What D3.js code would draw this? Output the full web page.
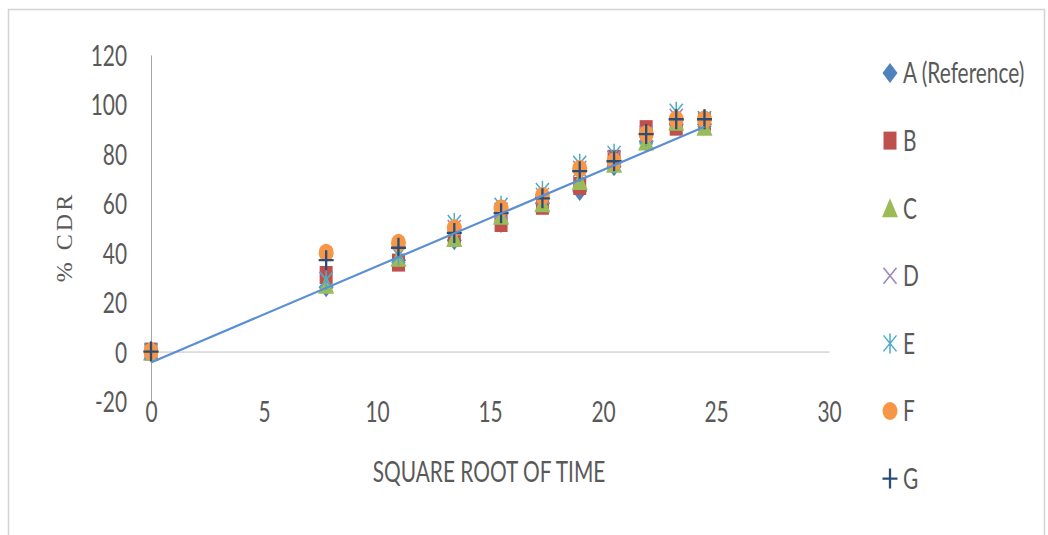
<!DOCTYPE html>
<html>
<head>
<meta charset="utf-8">
<script src="https://cdn.jsdelivr.net/npm/d3@7"></script>
<style>
  body { margin: 0; background: #fff; }
  svg text { font-family: Lato, "Open Sans", sans-serif; fill: #595959; }
</style>
</head>
<body>
<svg id="chart" width="1048" height="535"></svg>
<script>
// values
const seriesNames = ["A (Reference)", "B", "C", "D", "E", "F", "G"];
const sqrtTime = [0, 7.75, 10.95, 13.42, 15.49, 17.32, 18.97, 20.49, 21.91, 23.24, 24.49];
const cdrA = [0, 26, 37, 45, 52, 60, 65, 75, 85, 92, 92];
const cdrB = [0, 31, 36, 47, 52, 59, 67, 78, 90, 91, 93];
const cdrC = [0, 27, 38, 46, 55, 60, 69, 76, 85, 93, 91];
const cdrD = [0, 29, 39, 50, 57, 63, 74, 78, 88, 95, 94];
const cdrE = [0, 29, 39, 52, 59, 65, 76, 80, 87, 97, 94];
const cdrF = [0, 40, 44, 50, 58, 63, 74, 77, 88, 94, 94];
const cdrG = [0, 37, 42, 48, 56, 62, 73, 77, 88, 94, 94];
const xTicks = [0, 5, 10, 15, 20, 25, 30];
const yTicks = [-20, 0, 20, 40, 60, 80, 100, 120];

const allSeries = [cdrA, cdrB, cdrC, cdrD, cdrE, cdrF, cdrG];
const markerType = ["diamond", "square", "triangle", "x", "star", "circle", "plus"];
const colors = ["#4f81bd", "#c0504d", "#9bbb59", "#9a86b8", "#4bacc6", "#f79646", "#2c4d75"];

const TX = 0.72; // the picture is squeezed sideways

const svg = d3.select("#chart");

// frame
svg.append("rect")
  .attr("x", 8.5).attr("y", 9.5)
  .attr("width", 1036).attr("height", 530)
  .attr("fill", "none").attr("stroke", "#d4d4d4").attr("stroke-width", 1.5);

const x = d3.scaleLinear().domain([0, 30]).range([151, 829]);
const y = d3.scaleLinear().domain([-20, 120]).range([401, 55]);

// marker shapes
function markerPath(type) {
  const p = d3.path();
  switch (type) {
    case "diamond":
      p.moveTo(0, -10); p.lineTo(7.5, 0); p.lineTo(0, 10); p.lineTo(-7.5, 0); p.closePath(); break;
    case "square":
      p.rect(-6.5, -9, 13, 18); break;
    case "triangle":
      p.moveTo(0, -10); p.lineTo(8, 9); p.lineTo(-8, 9); p.closePath(); break;
    case "x":
      p.moveTo(-6.5, -8); p.lineTo(6.5, 8); p.moveTo(6.5, -8); p.lineTo(-6.5, 8); break;
    case "star":
      p.moveTo(-6.5, -8); p.lineTo(6.5, 8); p.moveTo(6.5, -8); p.lineTo(-6.5, 8);
      p.moveTo(0, -10); p.lineTo(0, 10); break;
    case "circle":
      return "M-7.5,0A7.5,9 0 1,0 7.5,0A7.5,9 0 1,0 -7.5,0Z";
    case "plus":
      p.moveTo(-7.5, 0); p.lineTo(7.5, 0); p.moveTo(0, -10); p.lineTo(0, 10); break;
  }
  return p.toString();
}
const stroked = (t) => t === "x" || t === "star" || t === "plus";

function drawMarker(sel, i) {
  const t = markerType[i];
  sel.attr("d", markerPath(t))
    .attr("fill", stroked(t) ? "none" : colors[i])
    .attr("stroke", stroked(t) ? colors[i] : "none")
    .attr("stroke-width", t === "plus" ? 2.3 : 1.5);
}

// axes
const gy = svg.append("g").attr("transform", `translate(${x(0)},0)`)
  .call(d3.axisLeft(y).tickValues(yTicks).tickFormat((d) => String(d))
    .tickSize(0).tickSizeOuter(0).tickPadding(0));
gy.select(".domain").attr("stroke", "#a6a6a6");
gy.selectAll("text")
  .attr("font-size", 29).attr("font-family", null)
  .attr("x", -24 / TX).attr("dy", "0.36em")
  .attr("transform", `scale(${TX},1)`);

const gx = svg.append("g").attr("transform", `translate(0,${y(0)})`)
  .call(d3.axisBottom(x).tickValues(xTicks).tickFormat((d) => String(d))
    .tickSize(0).tickSizeOuter(0));
gx.select(".domain").attr("stroke", "#bfbfbf");
gx.selectAll("text")
  .attr("font-size", 29).attr("font-family", null)
  .attr("y", y(-20) - y(0) + 11).attr("dy", "0.36em")
  .attr("transform", `scale(${TX},1)`);

// axis titles
svg.append("text")
  .attr("transform", `translate(489,472) scale(${TX},1)`)
  .attr("text-anchor", "middle").attr("dy", "0.36em")
  .attr("font-size", 29)
  .text("SQUARE ROOT OF TIME");

svg.append("text")
  .attr("transform", "translate(63,237) rotate(-90)")
  .attr("text-anchor", "middle").attr("dy", "0.36em")
  .style("font-family", "'Liberation Serif', serif")
  .attr("font-size", 24).attr("letter-spacing", 3)
  .text("% CDR");

// points
const plot = svg.append("g");
allSeries.forEach((vals, i) => {
  plot.append("g").selectAll("path")
    .data(vals)
    .join("path")
    .attr("transform", (d, k) => `translate(${x(sqrtTime[k])},${y(d)})`)
    .call(drawMarker, i);
});

// linear trend of the reference series
const n = sqrtTime.length;
const mx = d3.mean(sqrtTime), my = d3.mean(cdrA);
const slope = d3.sum(sqrtTime, (v, k) => (v - mx) * (cdrA[k] - my)) /
              d3.sum(sqrtTime, (v) => (v - mx) * (v - mx));
const icpt = my - slope * mx;
const trendX = [sqrtTime[0], sqrtTime[n - 1]];
svg.append("path")
  .attr("d", d3.line().x((d) => x(d)).y((d) => y(icpt + slope * d))(trendX))
  .attr("stroke", "#5b8fd4").attr("stroke-width", 2.2).attr("fill", "none");

// legend
const leg = svg.append("g").selectAll("g")
  .data(seriesNames)
  .join("g")
  .attr("transform", (d, i) => `translate(890,${73 + i * 67.6})`);
leg.append("path").each(function (d, i) { d3.select(this).call(drawMarker, i); });
leg.append("text")
  .attr("transform", `translate(13,0) scale(${TX},1)`)
  .attr("dy", "0.36em").attr("font-size", 29)
  .text((d) => d);
</script>
</body>
</html>
